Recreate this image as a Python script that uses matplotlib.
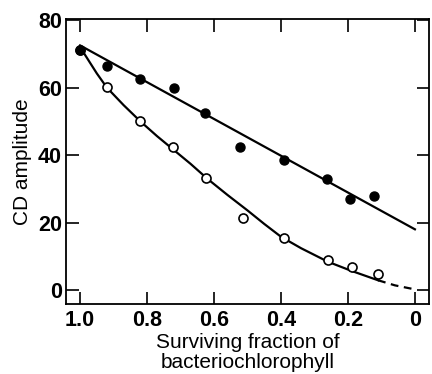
import numpy as np
import matplotlib.pyplot as plt

plt.rcParams['font.family'] = ['Liberation Sans', 'DejaVu Sans']

# filled circles
filled_x = [1.0, 0.92, 0.82, 0.72, 0.627, 0.522, 0.39, 0.263, 0.194, 0.122]
filled_y = [71.0, 66.4, 62.6, 60.0, 52.5, 42.3, 38.5, 33.0, 27.0, 28.0]

# open circles
open_x = [1.0, 0.92, 0.82, 0.722, 0.624, 0.513, 0.39, 0.26, 0.188, 0.11]
open_y = [71.0, 60.3, 50.2, 42.3, 33.2, 21.5, 15.3, 8.8, 6.8, 4.8]

# fitted line through filled circles
fit1_x = [1.0, 0.0]
fit1_y = [72.5, 18.0]

# hand-drawn curve through open circles (solid part, then dashed part)
fit2_x = [1.0, 0.95, 0.92, 0.87, 0.82, 0.77, 0.72, 0.67, 0.62, 0.56, 0.5, 0.45, 0.4,
          0.34, 0.26, 0.19, 0.11]
fit2_y = [72.0, 64.2, 60.0, 54.8, 50.0, 45.6, 41.5, 37.4, 33.0, 28.2, 23.6, 19.6, 15.8,
          12.4, 8.4, 5.7, 2.9]
dash_x = [0.11, 0.06, 0.0]
dash_y = [2.9, 1.4, 0.2]

fig = plt.figure(figsize=(4.32, 3.74), dpi=100)
ax = fig.add_axes([0.1528, 0.187, 0.993 - 0.1528, 0.949 - 0.187])

ax.plot(fit1_x, fit1_y, color='black', lw=1.6, zorder=2)
ax.plot(fit2_x, fit2_y, color='black', lw=1.6, zorder=2)
ax.plot(dash_x, dash_y, color='black', lw=1.6, ls=(0, (3.5, 2.5)), zorder=2)

ax.plot(open_x, open_y, 'o', mfc='white', mec='black', mew=1.2, ms=6.5, zorder=3)
ax.plot(filled_x, filled_y, 'o', color='black', ms=6.5, zorder=4)

ax.set_xlim(1.042, -0.042)
ax.set_ylim(-4.15, 80.3)
ax.set_xticks([1.0, 0.8, 0.6, 0.4, 0.2, 0.0])
ax.set_xticklabels(['1.0', '0.8', '0.6', '0.4', '0.2', '0'])
ax.set_yticks([0, 20, 40, 60, 80])

ax.tick_params(direction='in', length=9, width=1.2, top=True, right=True,
               labelsize=15.5, pad=4)
ax.tick_params(axis='y', pad=3)
for lab in ax.get_xticklabels() + ax.get_yticklabels():
    lab.set_fontweight('bold')
for s in ax.spines.values():
    s.set_linewidth(1.3)

ax.set_xlabel('Surviving fraction of\nbacteriochlorophyll', fontsize=15, labelpad=2,
              linespacing=1.05)
ax.set_ylabel('CD amplitude', fontsize=15, labelpad=4)

fig.savefig('out.png', dpi=100)
